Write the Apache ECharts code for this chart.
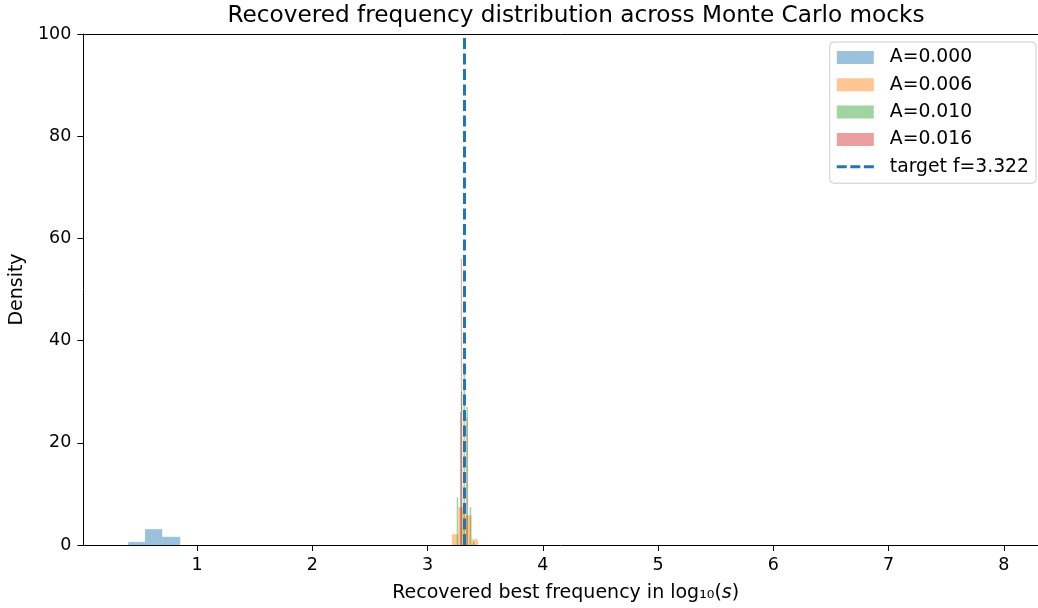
<!DOCTYPE html>
<html>
<head>
<meta charset="utf-8">
<script src="https://cdn.jsdelivr.net/npm/echarts@6/dist/echarts.min.js"></script>
<style>
  html, body { margin: 0; padding: 0; background: #fff; }
  #chart { width: 1038px; height: 608px; }
</style>
</head>
<body>
<div id="chart"></div>
<script>
// histogram data (x = log10 s, y = density)
const seriesNames = ['A=0.000', 'A=0.006', 'A=0.010', 'A=0.016'];
const target = 3.322;
const targetName = 'target f=3.322';

// A=0.000 : contiguous bins
const blueEdges = [0.402, 0.548, 0.697, 0.853];
const blueDensity = [0.6, 3.1, 1.6];

// A=0.006 : contiguous bins
const orangeEdges = [3.210, 3.267, 3.324, 3.381, 3.438];
const orangeDensity = [2.1, 7.4, 5.8, 1.1];

// A=0.010 : narrow bins (left edge, density)
const greenWidth = 0.013;
const greenLeft = [3.252, 3.288, 3.311, 3.336, 3.365, 3.393];
const greenDensity = [9.3, 30, 35, 27, 7.4, 0.6];

// A=0.016 : narrow bins (left edge, density)
const redWidth = 0.0085;
const redLeft = [3.280, 3.2885, 3.3375];
const redDensity = [26, 56, 25];

const xTicks = [1, 2, 3, 4, 5, 6, 7, 8];
const xMin = 0.012, xMax = 8.296;
const yMin = 0, yMax = 100, yStep = 20;

const colors = ['rgba(31,119,180,0.45)', 'rgba(255,127,14,0.45)', 'rgba(44,160,44,0.45)', 'rgba(214,39,40,0.45)'];
const font = 'DejaVu Sans';

const fromEdges = (edges, dens) => dens.map((d, i) => [edges[i], edges[i + 1], d]);
const fromLefts = (lefts, w, dens) => dens.map((d, i) => [lefts[i], lefts[i] + w, d]);

const histData = [
  fromEdges(blueEdges, blueDensity),
  fromEdges(orangeEdges, orangeDensity),
  fromLefts(greenLeft, greenWidth, greenDensity),
  fromLefts(redLeft, redWidth, redDensity)
];

const renderBar = (params, api) => {
  const p0 = api.coord([api.value(0), api.value(2)]);
  const p1 = api.coord([api.value(1), 0]);
  return {
    type: 'rect',
    shape: { x: p0[0], y: p0[1], width: Math.max(p1[0] - p0[0], 1), height: p1[1] - p0[1] },
    style: api.style()
  };
};

const chart = echarts.init(document.getElementById('chart'), null, { renderer: 'canvas' });

const histSeries = seriesNames.map((name, i) => ({
  name,
  type: 'custom',
  renderItem: renderBar,
  encode: { x: [0, 1], y: 2 },
  itemStyle: { color: colors[i] },
  silent: true,
  data: histData[i]
}));

chart.setOption({
  animation: false,
  backgroundColor: '#fff',
  textStyle: { fontFamily: font, color: '#000' },
  title: {
    text: 'Recovered frequency distribution across Monte Carlo mocks',
    left: 576,
    textAlign: 'center',
    top: 4,
    padding: 0,
    textStyle: { fontFamily: font, fontSize: 23.2, fontWeight: 'normal', color: '#000' }
  },
  grid: {
    left: 82,
    right: 0,
    top: 34,
    bottom: 62
  },
  legend: {
    orient: 'vertical',
    right: 2,
    top: 42,
    padding: [6, 7, 7, 7],
    itemWidth: 37,
    itemHeight: 13,
    itemGap: 8.3,
    backgroundColor: 'rgba(255,255,255,0.8)',
    borderColor: '#cccccc',
    borderWidth: 1,
    borderRadius: 4,
    selectedMode: false,
    textStyle: { fontFamily: font, fontSize: 18.8, color: '#000', lineHeight: 19, padding: [0, 0, 0, 11] },
    data: seriesNames.map((name, i) => ({ name, icon: 'rect', itemStyle: { color: colors[i] } })).concat([{
      name: targetName,
      icon: 'path://M0,0M37,13M0,5h10v3h-10zM13.5,5h10v3h-10zM27,5h10v3h-10z',
      itemStyle: { color: '#1f77b4' }
    }])
  },
  xAxis: [{
    type: 'value',
    min: xMin,
    max: xMax,
    splitLine: { show: false },
    axisLine: { show: true, onZero: false, lineStyle: { color: '#000', width: 1 } },
    axisTick: { show: true, length: 6, customValues: xTicks, lineStyle: { color: '#000' } },
    axisLabel: { customValues: xTicks, fontFamily: font, fontSize: 17.5, color: '#000', margin: 11 },
    name: 'Recovered best frequency in log₁₀({i|s})',
    nameLocation: 'middle',
    nameGap: 39,
    nameTextStyle: {
      fontFamily: font, fontSize: 19, color: '#000', padding: [0, 0, 0, 10],
      rich: { i: { fontFamily: font, fontSize: 19, fontStyle: 'italic', color: '#000' } }
    }
  }, {
    // top spine only
    type: 'value',
    position: 'top',
    min: xMin,
    max: xMax,
    splitLine: { show: false },
    axisLine: { show: true, onZero: false, lineStyle: { color: '#000', width: 1 } },
    axisTick: { show: false },
    axisLabel: { show: false }
  }],
  yAxis: {
    type: 'value',
    min: yMin,
    max: yMax,
    interval: yStep,
    splitLine: { show: false },
    axisLine: { show: true, lineStyle: { color: '#000', width: 1 } },
    axisTick: { show: true, length: 6, lineStyle: { color: '#000' } },
    axisLabel: { fontFamily: font, fontSize: 17.5, color: '#000', margin: 12 },
    name: 'Density',
    nameLocation: 'middle',
    nameGap: 54,
    nameTextStyle: { fontFamily: font, fontSize: 19, color: '#000' }
  },
  series: histSeries.concat([{
    name: targetName,
    type: 'line',
    data: [],
    symbol: 'none',
    itemStyle: { color: '#1f77b4' },
    lineStyle: { color: '#1f77b4', width: 3, type: [11, 4.5] },
    markLine: {
      silent: true,
      symbol: 'none',
      label: { show: false },
      lineStyle: { color: '#1f77b4', width: 3, type: [11, 4.5] },
      data: [{ xAxis: target }]
    }
  }])
});
</script>
</body>
</html>
